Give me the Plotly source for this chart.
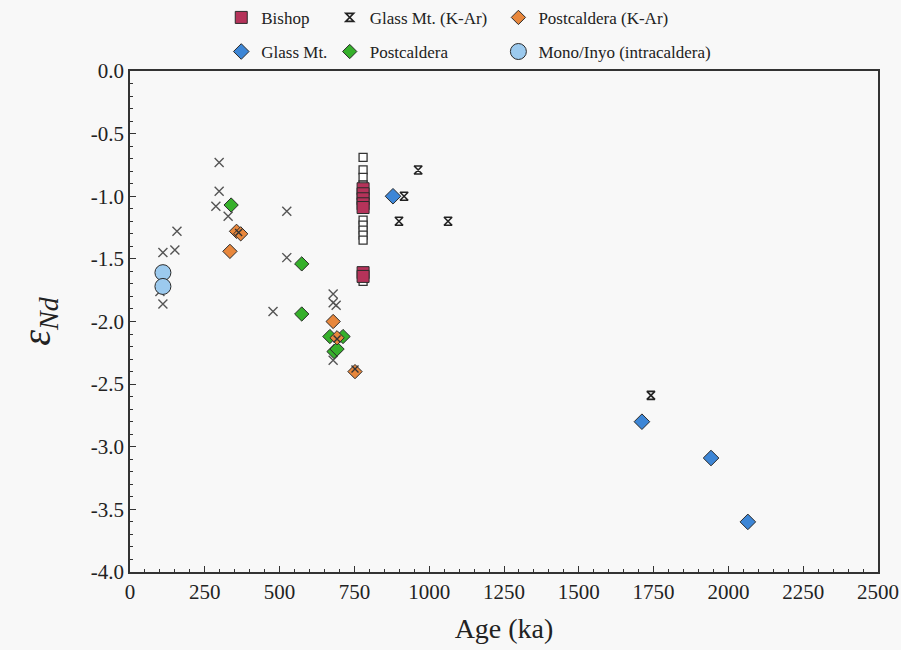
import plotly.graph_objects as go

# ---------------- data ----------------
bishop_age = [779, 779, 779, 779, 779, 779, 779]
bishop_end = [-0.94, -0.98, -1.02, -1.06, -1.09, -1.61, -1.64]

bishop_open_age = [779, 779, 779, 779, 779, 779, 779, 779, 779, 779]
bishop_open_end = [-0.69, -0.79, -0.85, -0.91, -1.19, -1.23, -1.27, -1.31, -1.35, -1.68]

glass_kar_age = [963, 916, 899, 1063, 1741]
glass_kar_end = [-0.79, -1.00, -1.20, -1.20, -2.59]

post_kar_age = [356, 370, 334, 679, 692, 752]
post_kar_end = [-1.28, -1.30, -1.44, -2.00, -2.13, -2.40]

glass_age = [879, 1711, 1942, 2065]
glass_end = [-1.00, -2.80, -3.09, -3.60]

post_age = [338, 574, 574, 668, 712, 682, 692]
post_end = [-1.07, -1.54, -1.94, -2.12, -2.12, -2.24, -2.22]

post_x_age = [298, 298, 287, 328, 157, 110, 150, 100, 110, 524, 524, 478, 679, 679, 689, 679]
post_x_end = [-0.73, -0.96, -1.08, -1.16, -1.28, -1.45, -1.43, -1.76, -1.86, -1.12, -1.49, -1.92,
              -1.78, -1.85, -1.87, -2.31]

overlay_age = [363, 692, 752]
overlay_end = [-1.29, -2.14, -2.38]

mono_age = [110, 110]
mono_end = [-1.61, -1.72]

x_ticks = [0, 250, 500, 750, 1000, 1250, 1500, 1750, 2000, 2250, 2500]
y_ticks = [0.0, -0.5, -1.0, -1.5, -2.0, -2.5, -3.0, -3.5, -4.0]
y_tick_labels = ["0.0", "-0.5", "-1.0", "-1.5", "-2.0", "-2.5", "-3.0", "-3.5", "-4.0"]

# ---------------- figure ----------------
FONT = "Liberation Serif"
OUT = "#2b2b2b"
fig = go.Figure()

# background traces (no legend)
fig.add_trace(go.Scatter(x=post_x_age, y=post_x_end, mode="markers", showlegend=False,
                         marker=dict(symbol="x-thin-open", size=9, color="#555555",
                                     line=dict(width=1.4, color="#555555"))))
fig.add_trace(go.Scatter(x=bishop_open_age, y=bishop_open_end, mode="markers", showlegend=False,
                         marker=dict(symbol="square", size=8, color="white",
                                     line=dict(width=1.3, color="#333333"))))

# legend column 1
fig.add_trace(go.Scatter(x=bishop_age, y=bishop_end, mode="markers", name="Bishop",
                         legend="legend", legendgroup="a",
                         marker=dict(symbol="square", size=12, color="#b5335a",
                                     line=dict(width=1, color=OUT))))
fig.add_trace(go.Scatter(x=glass_age, y=glass_end, mode="markers", name="Glass Mt.",
                         legend="legend", legendgroup="b",
                         marker=dict(symbol="diamond", size=12, color="#3d86d6",
                                     line=dict(width=1, color=OUT))))
# legend column 2
fig.add_trace(go.Scatter(x=glass_kar_age, y=glass_kar_end, mode="markers", name="Glass Mt. (K-Ar)",
                         legend="legend2", legendgroup="c",
                         marker=dict(symbol="hourglass-open", size=8, color="#222222",
                                     line=dict(width=1.6, color="#222222"))))
fig.add_trace(go.Scatter(x=post_age, y=post_end, mode="markers", name="Postcaldera",
                         legend="legend2", legendgroup="d",
                         marker=dict(symbol="diamond", size=11, color="#36b02b",
                                     line=dict(width=1, color=OUT))))
# legend column 3
fig.add_trace(go.Scatter(x=post_kar_age, y=post_kar_end, mode="markers", name="Postcaldera (K-Ar)",
                         legend="legend3", legendgroup="e",
                         marker=dict(symbol="diamond", size=11, color="#e8873c",
                                     line=dict(width=1, color=OUT))))
fig.add_trace(go.Scatter(x=mono_age, y=mono_end, mode="markers", name="Mono/Inyo (intracaldera)",
                         legend="legend3", legendgroup="f",
                         marker=dict(symbol="circle", size=16, color="#9ccaee",
                                     line=dict(width=1, color=OUT))))
fig.add_trace(go.Scatter(x=overlay_age, y=overlay_end, mode="markers", showlegend=False,
                         marker=dict(symbol="x-thin-open", size=7, color="#333333",
                                     line=dict(width=1.4, color="#333333"))))

BG = "#f8f8f8"
leg_common = dict(orientation="v", yanchor="top", xanchor="left", y=1.142,
                  font=dict(family=FONT, size=17, color="#222"),
                  bgcolor="rgba(0,0,0,0)", borderwidth=0, tracegroupgap=9)

fig.update_layout(
    width=901, height=650,
    margin=dict(l=130, r=23, t=71, b=78, autoexpand=False),
    paper_bgcolor=BG, plot_bgcolor=BG,
    font=dict(family=FONT, color="#222"),
    legend=dict(x=0.122, **leg_common),
    legend2=dict(x=0.267, **leg_common),
    legend3=dict(x=0.4925, **leg_common),
)

fig.update_xaxes(range=[0, 2500], tickvals=x_ticks, ticktext=[str(v) for v in x_ticks],
                 showgrid=False, zeroline=False, showline=True, mirror=True,
                 linecolor="#333", linewidth=1.5,
                 ticks="inside", ticklen=6, tickcolor="#333", tickwidth=1.3,
                 minor=dict(dtick=50, ticks="inside", ticklen=3, tickcolor="#333", tickwidth=1),
                 tickfont=dict(family=FONT, size=21, color="#222"),
                 title=dict(text="Age (ka)", font=dict(family=FONT, size=28, color="#222"), standoff=15))
fig.update_yaxes(range=[-4.0, 0.0], tickvals=y_ticks, ticktext=y_tick_labels,
                 showgrid=False, zeroline=False, showline=True, mirror=True,
                 linecolor="#333", linewidth=1.5,
                 ticks="inside", ticklen=6, tickcolor="#333", tickwidth=1.3,
                 minor=dict(dtick=0.1, ticks="inside", ticklen=3, tickcolor="#333", tickwidth=1),
                 tickfont=dict(family=FONT, size=21, color="#222"),
                 title=dict(text="<i>ε</i><sub><i>Nd</i></sub>",
                            font=dict(family=FONT, size=40, color="#222"), standoff=28))

fig.write_html("out.html")
